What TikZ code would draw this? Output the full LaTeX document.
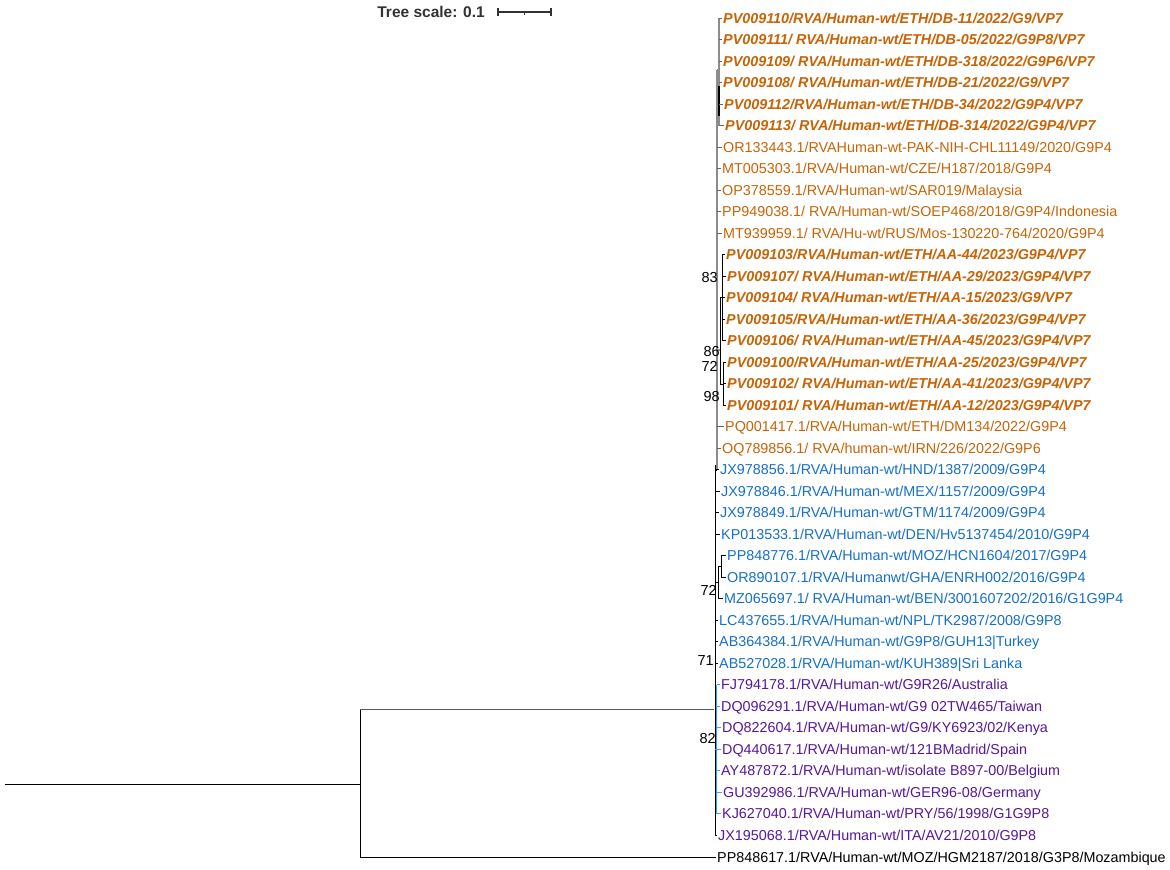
\documentclass[tikz,border=0pt]{standalone}
\usepackage{fontspec}
\setmainfont{Liberation Sans}
\definecolor{orng}{RGB}{200,100,5}
\definecolor{blu}{RGB}{22,112,200}
\definecolor{purp}{RGB}{88,24,155}
\definecolor{lblu}{RGB}{70,160,225}
\definecolor{scl}{RGB}{50,50,50}
\newcommand\labfont{\fontsize{14.35pt}{16pt}\selectfont}
\newcommand\bsfont{\fontsize{14.5pt}{16pt}\selectfont}
\tikzset{
  lab/.style={anchor=west, inner sep=0pt, text height=10.2pt, text depth=0pt, font=\labfont},
  eth/.style={lab, text=orng, font=\labfont\bfseries\itshape},
  org/.style={lab, text=orng},
  bl/.style={lab, text=blu},
  pu/.style={lab, text=purp},
  bk/.style={lab, text=black},
  br/.style={line width=0.9pt, black},
  brg/.style={line width=1.3pt, black!45},
  brb/.style={line width=0.9pt, lblu},
  bs/.style={font=\bsfont, anchor=east, inner sep=0pt, text height=10.4pt, text depth=0pt},
  tick/.style={line width=0.8pt}
}
\begin{document}
\begin{tikzpicture}[x=1pt,y=-1pt]
\useasboundingbox[fill=white] (0,0) rectangle (1170,870);
% scale
\node[font=\fontsize{15.5pt}{17pt}\selectfont\bfseries, text=scl, anchor=east, inner sep=0pt] (ts) at (485,12) {Tree scale: 0.1};
\coordinate (sa) at (498,12); \coordinate (sb) at (551,12);
\draw[scl, line width=1.1pt] (sa) -- (sb);
\draw[scl, line width=1.1pt] ([yshift=-4pt]sa) -- ([yshift=4pt]sa);
\draw[scl, line width=1.1pt] ([yshift=-4pt]sb) -- ([yshift=4pt]sb);
\draw[scl, line width=1pt] (524.5,12) -- (524.5,14.5);
% leaves
\node[eth] (l1) at (723,18) {PV009110/RVA/Human-wt/ETH/DB-11/2022/G9/VP7};
\node[eth] (l2) at (723,39.51) {PV009111/ RVA/Human-wt/ETH/DB-05/2022/G9P8/VP7};
\node[eth] (l3) at (723,61.02) {PV009109/ RVA/Human-wt/ETH/DB-318/2022/G9P6/VP7};
\node[eth] (l4) at (723,82.53) {PV009108/ RVA/Human-wt/ETH/DB-21/2022/G9/VP7};
\node[eth] (l5) at (724,104.04) {PV009112/RVA/Human-wt/ETH/DB-34/2022/G9P4/VP7};
\node[eth] (l6) at (725,125.55) {PV009113/ RVA/Human-wt/ETH/DB-314/2022/G9P4/VP7};
\node[org] (l7) at (723,147.06) {OR133443.1/RVAHuman-wt-PAK-NIH-CHL11149/2020/G9P4};
\node[org] (l8) at (722,168.57) {MT005303.1/RVA/Human-wt/CZE/H187/2018/G9P4};
\node[org] (l9) at (722,190.08) {OP378559.1/RVA/Human-wt/SAR019/Malaysia};
\node[org] (l10) at (722,211.59) {PP949038.1/ RVA/Human-wt/SOEP468/2018/G9P4/Indonesia};
\node[org] (l11) at (723,233.1) {MT939959.1/ RVA/Hu-wt/RUS/Mos-130220-764/2020/G9P4};
\node[eth] (l12) at (726,254.61) {PV009103/RVA/Human-wt/ETH/AA-44/2023/G9P4/VP7};
\node[eth] (l13) at (727,276.12) {PV009107/ RVA/Human-wt/ETH/AA-29/2023/G9P4/VP7};
\node[eth] (l14) at (726,297.63) {PV009104/ RVA/Human-wt/ETH/AA-15/2023/G9/VP7};
\node[eth] (l15) at (726,319.14) {PV009105/RVA/Human-wt/ETH/AA-36/2023/G9P4/VP7};
\node[eth] (l16) at (727,340.65) {PV009106/ RVA/Human-wt/ETH/AA-45/2023/G9P4/VP7};
\node[eth] (l17) at (727,362.16) {PV009100/RVA/Human-wt/ETH/AA-25/2023/G9P4/VP7};
\node[eth] (l18) at (727,383.67) {PV009102/ RVA/Human-wt/ETH/AA-41/2023/G9P4/VP7};
\node[eth] (l19) at (727,405.18) {PV009101/ RVA/Human-wt/ETH/AA-12/2023/G9P4/VP7};
\node[org] (l20) at (725,426.69) {PQ001417.1/RVA/Human-wt/ETH/DM134/2022/G9P4};
\node[org] (l21) at (722,448.2) {OQ789856.1/ RVA/human-wt/IRN/226/2022/G9P6};
\node[bl] (l22) at (720,469.71) {JX978856.1/RVA/Human-wt/HND/1387/2009/G9P4};
\node[bl] (l23) at (721,491.22) {JX978846.1/RVA/Human-wt/MEX/1157/2009/G9P4};
\node[bl] (l24) at (720,512.73) {JX978849.1/RVA/Human-wt/GTM/1174/2009/G9P4};
\node[bl] (l25) at (721,534.24) {KP013533.1/RVA/Human-wt/DEN/Hv5137454/2010/G9P4};
\node[bl] (l26) at (727,555.75) {PP848776.1/RVA/Human-wt/MOZ/HCN1604/2017/G9P4};
\node[bl] (l27) at (727,577.26) {OR890107.1/RVA/Humanwt/GHA/ENRH002/2016/G9P4};
\node[bl] (l28) at (724,598.77) {MZ065697.1/ RVA/Human-wt/BEN/3001607202/2016/G1G9P4};
\node[bl] (l29) at (719,620.28) {LC437655.1/RVA/Human-wt/NPL/TK2987/2008/G9P8};
\node[bl] (l30) at (719,641.79) {AB364384.1/RVA/Human-wt/G9P8/GUH13|Turkey};
\node[bl] (l31) at (719,663.3) {AB527028.1/RVA/Human-wt/KUH389|Sri Lanka};
\node[pu] (l32) at (721,684.81) {FJ794178.1/RVA/Human-wt/G9R26/Australia};
\node[pu] (l33) at (721,706.32) {DQ096291.1/RVA/Human-wt/G9 02TW465/Taiwan};
\node[pu] (l34) at (722,727.83) {DQ822604.1/RVA/Human-wt/G9/KY6923/02/Kenya};
\node[pu] (l35) at (722,749.34) {DQ440617.1/RVA/Human-wt/121BMadrid/Spain};
\node[pu] (l36) at (721,770.85) {AY487872.1/RVA/Human-wt/isolate B897-00/Belgium};
\node[pu] (l37) at (723,792.36) {GU392986.1/RVA/Human-wt/GER96-08/Germany};
\node[pu] (l38) at (722,813.87) {KJ627040.1/RVA/Human-wt/PRY/56/1998/G1G9P8};
\node[pu] (l39) at (718,835.38) {JX195068.1/RVA/Human-wt/ITA/AV21/2010/G9P8};
\node[bk] (l40) at (717,857) {PP848617.1/RVA/Human-wt/MOZ/HGM2187/2018/G3P8/Mozambique};
% internal coordinates
\coordinate (r0) at (5,784);
\coordinate (r1) at (360,784);
\coordinate (r1t) at (360,709);
\coordinate (r1b) at (360,857);
\coordinate (ing) at (714,709);
% root
\draw[br] (r0) -- (r1);
\draw[br] (r1t) -- (r1b);
\draw[line width=0.9pt, black!65] (r1t) -- (ing);
\draw[br] (r1b) -- ([xshift=-1.5pt]r1b -| l40.west);
% main backbone
\draw[br] (715,465) -- (715,836);
\draw[brg] (717,70) -- (717,470);
\draw[br] (715,470) -- (717,470);
% top cluster
\draw[brg] (719,18) -- (719,126);
\draw[line width=1.5pt, black] (719,86) -- (719,116);
\draw[brg] (717,70) -- (719,70);
\foreach \i in {1,...,6} \draw[tick, black!60] (719,0 |- l\i.west) -- ([xshift=-1.5pt]l\i.west);
% rows 7-11 from 717
\foreach \i in {7,...,11} \draw[tick, black!60] (717,0 |- l\i.west) -- ([xshift=-1.5pt]l\i.west);
% AA cluster
\draw[br] (722,254.6) -- (722,340.7);
\draw[br] (720,297.6) -- (722,297.6);
\foreach \i in {12,...,16} \draw[tick] (722,0 |- l\i.west) -- ([xshift=-1.5pt]l\i.west);
\draw[br] (723,362.2) -- (723,405.2);
\foreach \i in {17,...,19} \draw[tick] (723,0 |- l\i.west) -- ([xshift=-1.5pt]l\i.west);
\draw[br] (720,297.6) -- (720,384);
\draw[br] (720,384) -- (723,384);
\draw[brg] (717,350) -- (720,350);
% rows 20-25
\foreach \i in {20,21} \draw[tick, black!60] (717,0 |- l\i.west) -- ([xshift=-1.5pt]l\i.west);
\foreach \i in {22,...,25} \draw[tick] (715,0 |- l\i.west) -- ([xshift=-1.5pt]l\i.west);
% small clade
\draw[br] (721,555.75) -- (721,577.26);
\foreach \i in {26,27} \draw[tick] (721,0 |- l\i.west) -- ([xshift=-1.5pt]l\i.west);
\draw[br] (718,566.5) -- (718,598.77);
\draw[br] (718,566.5) -- (721,566.5);
\draw[tick] (718,598.77) -- ([xshift=-1.5pt]l28.west);
\draw[br] (715,582) -- (718,582);
\foreach \i in {29,30,31,39} \draw[tick] (715,0 |- l\i.west) -- ([xshift=-1.5pt]l\i.west);
% purple clade
\draw[brb] (716.5,684.8) -- (716.5,813.9);
\draw[brb] (715,749.3) -- (716.5,749.3);
\foreach \i in {32,...,38} \draw[tick, lblu] (716.5,0 |- l\i.west) -- ([xshift=-1.5pt]l\i.west);
% bootstrap values
\node[bs] (b83) at (718,277) {83};
\node[bs] (b86) at (720,351) {86};
\node[bs] (b72a) at (718,366) {72};
\node[bs] (b98) at (720,396) {98};
\node[bs] (b72b) at (717,590) {72};
\node[bs] (b71) at (714,660) {71};
\node[bs] (b82) at (716,738) {82};
\end{tikzpicture}
\end{document}
